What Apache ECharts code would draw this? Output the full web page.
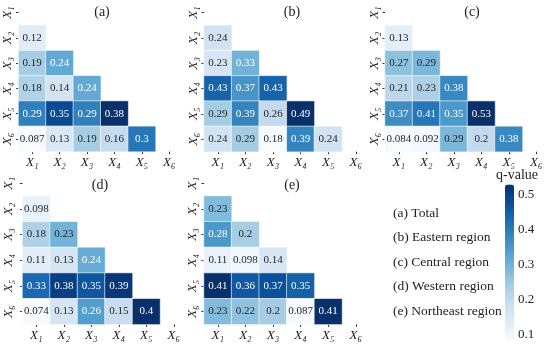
<!DOCTYPE html>
<html>
<head>
<meta charset="utf-8">
<script src="https://cdn.jsdelivr.net/npm/echarts@6/dist/echarts.min.js"></script>
<style>
html,body{margin:0;padding:0;background:#fff;}
#chart{width:550px;height:346px;}
</style>
</head>
<body>
<div id="chart"></div>
<script>
// ---- data ----
const factors = ['X₁', 'X₂', 'X₃', 'X₄', 'X₅', 'X₆'];
const panelTitles = ['(a)', '(b)', '(c)', '(d)', '(e)'];
const legendLabels = ['(a) Total', '(b) Eastern region', '(c) Central region', '(d) Western region', '(e) Northeast region'];
// lower-triangle rows: row X2..X6, columns X1..
const totalQ = [
  [0.12],
  [0.19, 0.24],
  [0.18, 0.14, 0.24],
  [0.29, 0.35, 0.29, 0.38],
  [0.087, 0.13, 0.19, 0.16, 0.3]
];
const easternQ = [
  [0.24],
  [0.23, 0.33],
  [0.43, 0.37, 0.43],
  [0.29, 0.39, 0.26, 0.49],
  [0.24, 0.29, 0.18, 0.39, 0.24]
];
const centralQ = [
  [0.13],
  [0.27, 0.29],
  [0.21, 0.23, 0.38],
  [0.37, 0.41, 0.35, 0.53],
  [0.084, 0.092, 0.29, 0.2, 0.38]
];
const westernQ = [
  [0.098],
  [0.18, 0.23],
  [0.11, 0.13, 0.24],
  [0.33, 0.38, 0.35, 0.39],
  [0.074, 0.13, 0.26, 0.15, 0.4]
];
const northeastQ = [
  [0.23],
  [0.28, 0.2],
  [0.11, 0.098, 0.14],
  [0.41, 0.36, 0.37, 0.35],
  [0.23, 0.22, 0.2, 0.087, 0.41]
];
const colorbarTicks = [0.1, 0.2, 0.3, 0.4, 0.5];
const colorbarRange = [0.084, 0.53];

// ---- styling ----
const panels = [totalQ, easternQ, centralQ, westernQ, northeastQ];
const blues = ['#f7fbff','#deebf7','#c6dbef','#9ecae1','#6baed6','#4292c6','#2171b5','#08519c','#08306b'];
const FONT = '"Liberation Serif", "Times New Roman", serif';
const gridPos = [
  {left: 18.5, top: -2.4, width: 164.5, height: 154},
  {left: 204, top: -1.5, width: 165.6, height: 153.2},
  {left: 385, top: -1.5, width: 165.6, height: 153.2},
  {left: 22.5, top: 170.4, width: 165, height: 154},
  {left: 204, top: 170.4, width: 165.6, height: 154}
];
const yLabelMargin = [4, 4, 4, 7, 5];
const titlePos = [[102, 12], [292, 12], [472, 12], [100, 185], [292, 185]];

function hex2rgb(h){return [parseInt(h.substr(1,2),16)/255, parseInt(h.substr(3,2),16)/255, parseInt(h.substr(5,2),16)/255];}
function cmap(t){
  t = Math.max(0, Math.min(1, t));
  const p = t * (blues.length - 1);
  const i = Math.min(Math.floor(p), blues.length - 2);
  const f = p - i;
  const a = hex2rgb(blues[i]), b = hex2rgb(blues[i+1]);
  return [0,1,2].map(k => a[k] + (b[k]-a[k])*f);
}
function lum(rgb){
  const l = rgb.map(c => c <= 0.03928 ? c/12.92 : Math.pow((c+0.055)/1.055, 2.4));
  return l[0]*0.2126 + l[1]*0.7152 + l[2]*0.0722;
}

const grids = [], xAxes = [], yAxes = [], series = [], visualMaps = [], graphics = [];
panels.forEach((rows, p) => {
  const flat = rows.flat();
  const vmin = Math.min(...flat), vmax = Math.max(...flat);
  grids.push(Object.assign({}, gridPos[p]));
  xAxes.push({
    type: 'category', gridIndex: p, data: factors, position: 'bottom',
    axisLine: {show: false},
    axisTick: {show: true, alignWithLabel: true, length: 2.5, lineStyle: {color: '#333'}},
    axisLabel: {margin: 4.5, fontFamily: FONT, fontStyle: 'italic', fontSize: 13, color: '#222'},
    splitLine: {show: false}
  });
  yAxes.push({
    type: 'category', gridIndex: p, data: factors, inverse: true,
    axisLine: {show: false},
    axisTick: {show: true, alignWithLabel: true, length: 2.5, lineStyle: {color: '#333'}},
    axisLabel: {margin: yLabelMargin[p], rotate: 90, fontFamily: FONT, fontStyle: 'italic', fontSize: 13, color: '#222'},
    splitLine: {show: false}
  });
  const data = [];
  rows.forEach((r, i) => {
    r.forEach((v, j) => {
      const c = cmap((v - vmin) / (vmax - vmin));
      data.push({value: [j, i + 1, v], label: {color: lum(c) > 0.408 ? '#262626' : '#ffffff'}});
    });
  });
  series.push({
    type: 'heatmap', xAxisIndex: p, yAxisIndex: p, data: data,
    itemStyle: {borderColor: '#ffffff', borderWidth: 0.6},
    label: {show: true, fontFamily: FONT, fontSize: 11, formatter: prm => String(prm.value[2])},
    emphasis: {disabled: true}
  });
  visualMaps.push({type: 'continuous', show: false, seriesIndex: p, dimension: 2, min: vmin, max: vmax, inRange: {color: blues}});
  graphics.push({type: 'text', x: titlePos[p][0], y: titlePos[p][1],
    style: {text: panelTitles[p], font: '14px ' + FONT, fill: '#222', textAlign: 'center', textVerticalAlign: 'middle'}});
});

// colorbar axis
grids.push({left: 505, top: 184.5, width: 9, height: 156});
xAxes.push({type: 'value', gridIndex: 5, show: false});
yAxes.push({
  type: 'value', gridIndex: 5, position: 'right', min: colorbarRange[0], max: colorbarRange[1],
  axisLine: {show: false}, splitLine: {show: false},
  axisTick: {show: true, length: 3, customValues: colorbarTicks, lineStyle: {color: '#333'}},
  axisLabel: {margin: 4, customValues: colorbarTicks, fontFamily: FONT, fontSize: 13, color: '#222', formatter: v => String(v)}
});
visualMaps.push({
  type: 'continuous', show: true, seriesIndex: [], min: colorbarRange[0], max: colorbarRange[1],
  inRange: {color: blues}, left: 505, top: 184.5, itemWidth: 9, itemHeight: 156,
  padding: 0, text: null, calculable: false, orient: 'vertical', hoverLink: false
});

legendLabels.forEach((t, k) => {
  graphics.push({type: 'text', x: 393, y: 213 + k * 24.6,
    style: {text: t, font: '13.5px ' + FONT, fill: '#222', textAlign: 'left', textVerticalAlign: 'middle'}});
});
graphics.push({type: 'text', x: 517, y: 175,
  style: {text: 'q-value', font: '14px ' + FONT, fill: '#222', textAlign: 'center', textVerticalAlign: 'middle'}});

const chart = echarts.init(document.getElementById('chart'), null, {renderer: 'canvas'});
chart.setOption({
  animation: false,
  backgroundColor: '#ffffff',
  grid: grids, xAxis: xAxes, yAxis: yAxes, series: series,
  visualMap: visualMaps, graphic: graphics
});
</script>
</body>
</html>
